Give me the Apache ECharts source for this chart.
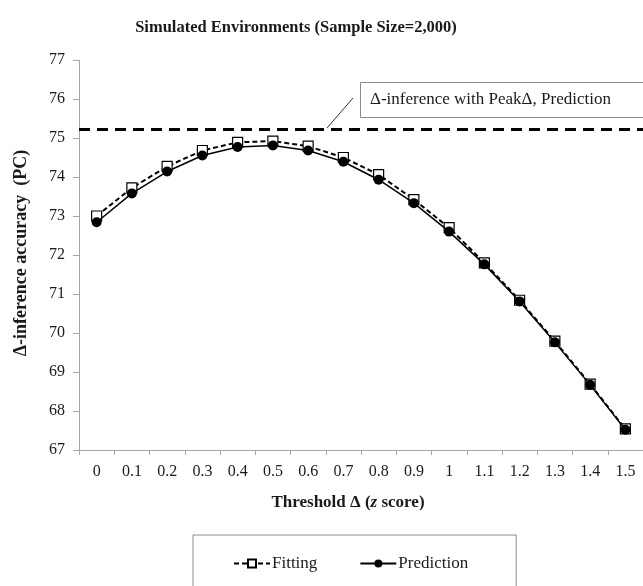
<!DOCTYPE html>
<html>
<head>
<meta charset="utf-8">
<script src="https://cdn.jsdelivr.net/npm/echarts@6/dist/echarts.min.js"></script>
<style>
  html, body { margin: 0; padding: 0; background: #fff; }
  #chart { width: 643px; height: 586px; }
</style>
</head>
<body>
<div id="chart"></div>
<script>
// Threshold values (z score)
const thresholds = ['0', '0.1', '0.2', '0.3', '0.4', '0.5', '0.6', '0.7', '0.8', '0.9', '1', '1.1', '1.2', '1.3', '1.4', '1.5'];
// Δ-inference accuracy (PC) for each threshold
const fitting = [73.00, 73.72, 74.27, 74.68, 74.89, 74.92, 74.79, 74.50, 74.06, 73.42, 72.70, 71.80, 70.84, 69.79, 68.69, 67.54];
const prediction = [72.84, 73.58, 74.14, 74.55, 74.77, 74.81, 74.68, 74.39, 73.93, 73.33, 72.60, 71.76, 70.81, 69.76, 68.67, 67.52];
// Accuracy of Δ-inference using the peak Δ (prediction)
const peakLevel = 75.23;

const serif = '"Liberation Serif", "Times New Roman", serif';
const ink = '#1a1a1a';
const axisGray = '#a6a6a6';

const chart = echarts.init(document.getElementById('chart'), null, { renderer: 'canvas' });

chart.setOption({
  backgroundColor: '#ffffff',
  animation: false,
  title: {
    text: 'Simulated Environments (Sample Size=2,000)',
    left: 291,
    top: 14,
    textAlign: 'center',
    textStyle: { fontFamily: serif, fontSize: 16.5, fontWeight: 'bold', color: ink }
  },
  grid: { left: 79, top: 60, width: 568, height: 390, containLabel: false },
  xAxis: {
    type: 'category',
    data: thresholds,
    boundaryGap: true,
    axisLine: { lineStyle: { color: axisGray, width: 1 } },
    axisTick: { show: true, interval: 0, length: 5, lineStyle: { color: axisGray } },
    axisLabel: { interval: 0, margin: 14, fontFamily: serif, fontSize: 16, color: ink },
    splitLine: { show: false }
  },
  yAxis: {
    type: 'value',
    min: 67,
    max: 77,
    interval: 1,
    axisLine: { show: true, lineStyle: { color: axisGray, width: 1 } },
    axisTick: { show: true, length: 6, lineStyle: { color: axisGray } },
    axisLabel: { margin: 14, fontFamily: serif, fontSize: 16, color: ink },
    splitLine: { show: false }
  },
  legend: {
    left: 193,
    top: 535,
    orient: 'horizontal',
    padding: [20, 48, 20, 40],
    itemGap: 42,
    itemWidth: 36,
    itemHeight: 10,
    borderColor: '#8c8c8c',
    borderWidth: 1,
    backgroundColor: '#ffffff',
    textStyle: { fontFamily: serif, fontSize: 17, color: ink, padding: [0, 0, 0, -3] },
    data: ['Fitting', 'Prediction']
  },
  series: [
    {
      name: 'Fitting',
      type: 'line',
      data: fitting,
      symbol: 'rect',
      symbolSize: 10,
      itemStyle: { color: '#ffffff', borderColor: '#000000', borderWidth: 1.2 },
      lineStyle: { color: '#000000', width: 2, type: [5, 3] },
      z: 3
    },
    {
      name: 'Prediction',
      type: 'line',
      data: prediction,
      symbol: 'circle',
      symbolSize: 10,
      itemStyle: { color: '#000000', borderColor: '#000000', borderWidth: 0 },
      lineStyle: { color: '#000000', width: 1.5, type: 'solid' },
      z: 4,
      markLine: {
        silent: true,
        symbol: ['none', 'none'],
        label: { show: false },
        lineStyle: { color: '#000000', width: 3, type: [11, 7] },
        data: [{ yAxis: peakLevel }]
      }
    }
  ],
  graphic: [
    {
      type: 'text',
      x: 21,
      y: 253,
      rotation: Math.PI / 2,
      style: {
        text: 'Δ-inference accuracy  (PC)',
        fontFamily: serif,
        fontSize: 18,
        fontWeight: 'bold',
        fill: ink,
        align: 'center',
        verticalAlign: 'middle'
      }
    },
    {
      type: 'text',
      x: 348,
      y: 503,
      style: {
        text: '{b|Threshold Δ (}{i|z}{b| score)}',
        align: 'center',
        verticalAlign: 'middle',
        rich: {
          b: { fontFamily: serif, fontSize: 17, fontWeight: 'bold', fill: ink, color: ink },
          i: { fontFamily: serif, fontSize: 17, fontWeight: 'bold', fontStyle: 'italic', fill: ink, color: ink }
        }
      }
    },
    {
      type: 'rect',
      shape: { x: 360.5, y: 82.5, width: 300, height: 35 },
      style: { fill: '#ffffff', stroke: '#8c8c8c', lineWidth: 1 },
      z: 10
    },
    {
      type: 'text',
      x: 370,
      y: 100,
      style: {
        text: 'Δ-inference with PeakΔ, Prediction',
        fontFamily: serif,
        fontSize: 17,
        fill: ink,
        verticalAlign: 'middle'
      },
      z: 11
    },
    {
      type: 'line',
      shape: { x1: 327, y1: 128, x2: 353, y2: 98 },
      style: { stroke: '#333333', lineWidth: 1 },
      z: 10
    }
  ]
});
</script>
</body>
</html>
